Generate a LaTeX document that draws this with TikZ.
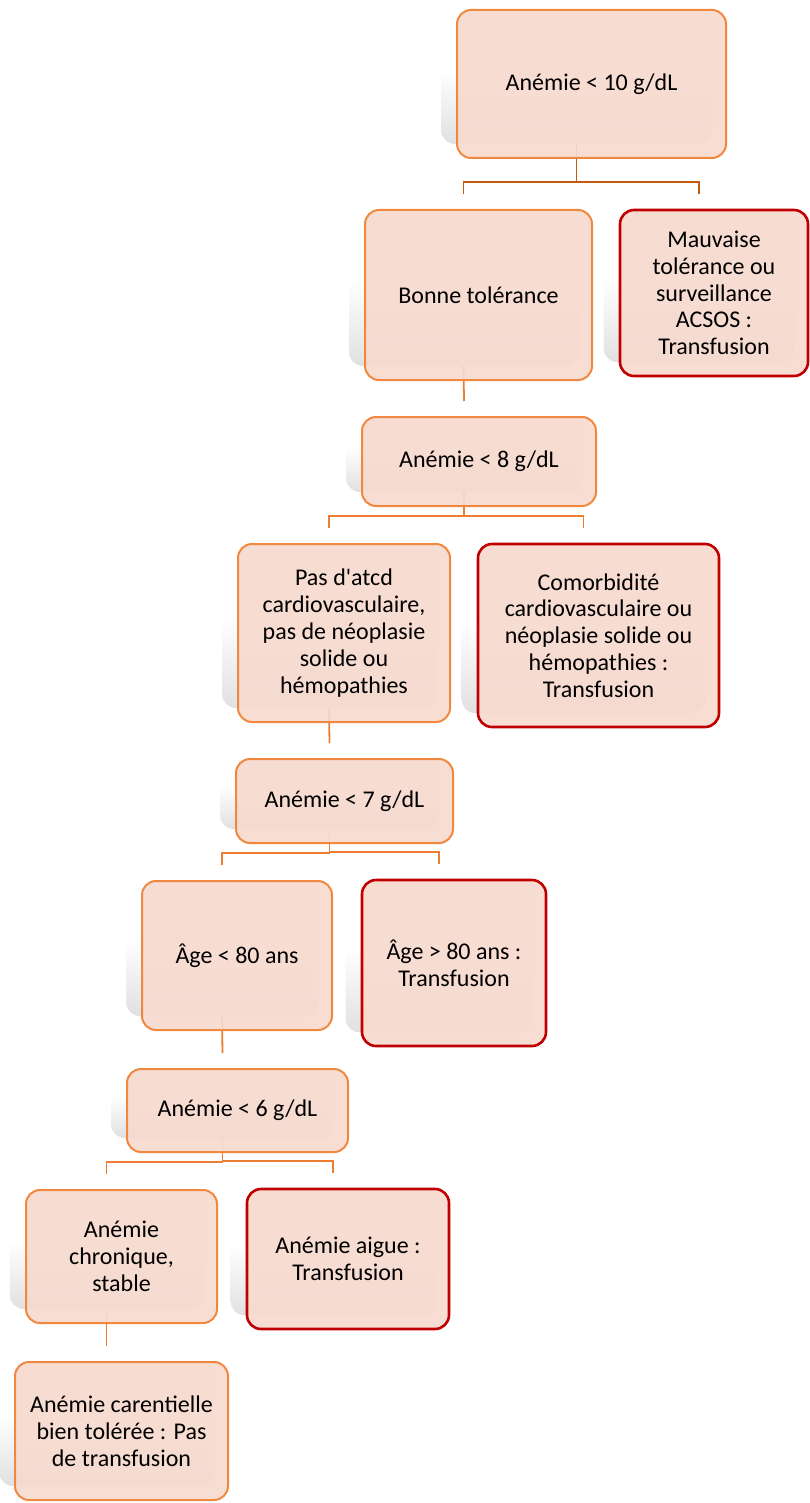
\documentclass[tikz,border=0pt]{standalone}
\usepackage{fontspec}
\setmainfont{Carlito}
\usepackage{tikz}
\usetikzlibrary{backgrounds}
\definecolor{boxfill}{HTML}{F7DACF}
\definecolor{boxorange}{HTML}{F0883F}
\definecolor{boxred}{HTML}{C00000}
\definecolor{linkdark}{HTML}{C55A11}
\definecolor{linkorange}{HTML}{ED7D31}

\begin{document}
\begin{tikzpicture}[x=0.5pt, y=-0.5pt, font=\fontsize{12}{13.4}\selectfont]
        \tikzstyle{box}=[rectangle, rounded corners=7pt, draw=boxorange, line width=1pt, fill=boxfill, fill opacity=0.92, text opacity=1, align=center, inner sep=2pt]
        \tikzstyle{endbox}=[box, draw=boxred, line width=1.3pt]
        \tikzstyle{link}=[draw=linkorange, line width=0.9pt]
        \useasboundingbox (0,0) rectangle (809,1503);
        \node[box, minimum width=134.5pt, minimum height=74pt] (b1) at (591.5,84) {Anémie < 10 g/dL};
        \node[box, minimum width=113.5pt, minimum height=85pt] (b2) at (478.5,295) {Bonne tolérance};
        \node[endbox, minimum width=94pt, minimum height=83pt] (b3) at (714,293) {Mauvaise\\tolérance ou\\surveillance\\ACSOS :\\Transfusion};
        \node[box, minimum width=117pt, minimum height=44.5pt] (b4) at (479,461.5) {Anémie < 8 g/dL};
        \node[box, minimum width=106pt, minimum height=89pt] (b5) at (344,633) {Pas d\textquotesingle atcd\\cardiovasculaire,\\pas de néoplasie\\solide ou\\hémopathies};
        \node[endbox, minimum width=120.5pt, minimum height=91.5pt] (b6) at (598.5,635.5) {Comorbidité\\cardiovasculaire ou\\néoplasie solide ou\\hémopathies :\\Transfusion};
        \node[box, minimum width=108.5pt, minimum height=42pt] (b7) at (344.5,801) {Anémie < 7 g/dL};
        \node[box, minimum width=95pt, minimum height=74.5pt] (b8) at (237,955.5) {Âge < 80 ans};
        \node[endbox, minimum width=92pt, minimum height=83pt] (b9) at (454,963) {Âge > 80 ans :\\Transfusion};
        \node[box, minimum width=110.5pt, minimum height=41.5pt] (b10) at (237.5,1110.5) {Anémie < 6 g/dL};
        \node[box, minimum width=95.5pt, minimum height=66.5pt] (b11) at (121.5,1256.5) {Anémie\\chronique,\\stable};
        \node[endbox, minimum width=101pt, minimum height=70pt] (b12) at (348,1259) {Anémie aigue :\\Transfusion};
        \node[box, minimum width=106.5pt, minimum height=69pt] (b13) at (121.5,1431) {Anémie carentielle\\bien tolérée : Pas\\de transfusion};
        \begin{scope}[on background layer]
            \foreach \n in {1,...,13} {
                \shade[top color=white, bottom color=black!12, middle color=white, rounded corners=7pt] ([shift={(-15,-15)}]b\n.north west) rectangle ([shift={(-15,-15)}]b\n.south east);
                \coordinate (t\n) at ([shift={(-15,-15)}]b\n.north);
                \coordinate (d\n) at ([shift={(-15,-15)}]b\n.south);
            }
            \draw[link, draw=linkdark] (d1) |- ([yshift=6pt]t2) -- (t2);
            \draw[link, draw=linkdark] (d1) |- ([yshift=6pt]t3) -- (t3);
            \draw[link] (d2) -- (t4);
            \draw[link] (d4) |- ([yshift=6pt]t5) -- (t5);
            \draw[link] (d4) |- ([yshift=6pt]t6) -- (t6);
            \draw[link] (d5) -- (t7);
            \draw[link] (d7) |- ([yshift=6pt]t8) -- (t8);
            \draw[link] (d7) |- ([yshift=6pt]t9) -- (t9);
            \draw[link] (d8) -- (t10);
            \draw[link] (d10) |- ([yshift=6pt]t11) -- (t11);
            \draw[link] (d10) |- ([yshift=6pt]t12) -- (t12);
            \draw[link] (d11) -- (t13);
        \end{scope}
    \end{tikzpicture}
\end{document}
